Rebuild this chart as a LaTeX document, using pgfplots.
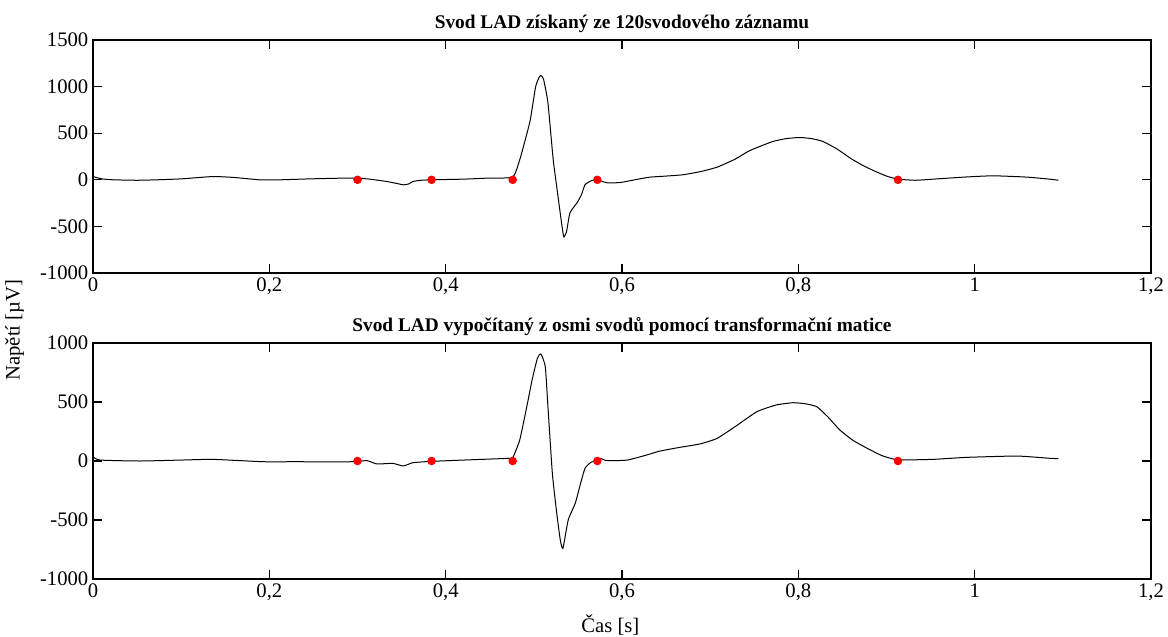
\documentclass[border=0pt]{standalone}
\usepackage{pgfplots}
\pgfplotsset{compat=1.18}
\usepackage{fontspec}
\setmainfont{Liberation Serif}
\begin{document}
\begin{tikzpicture}
\pgfplotsset{
  ecg/.style={
    scale only axis, width=793.5pt, xmin=0, xmax=1.2,
    xtick={0,0.2,0.4,0.6,0.8,1,1.2},
    tick align=inside, major tick length=7pt,
    xtick pos=both, ytick pos=both,
    axis line style={line width=0.8pt, black},
    every tick/.style={line width=0.8pt, black},
    /pgf/number format/use comma,
    /pgf/number format/1000 sep={},
    /pgf/number format/assume math mode=true,
    ticklabel style={font=\fontsize{15.5}{17}\selectfont},
    title style={font=\fontsize{14.5}{16}\selectfont\bfseries, yshift=-4pt},
    scaled ticks=false,
    every axis plot/.append style={line width=0.75pt},
  }
}
\path[use as bounding box] (-69.75pt,30pt) rectangle (806.25pt,-447pt);
\begin{axis}[ecg, at={(0pt,0pt)}, anchor=north west, height=174.75pt,
  ymin=-1000, ymax=1500, ytick={-1000,-500,0,500,1000,1500},
  title={Svod LAD získaný ze 120svodového záznamu},
  ylabel={Napětí [µV]},
  ylabel style={at={(axis description cs:-0.074,-0.245)}, anchor=center, font=\fontsize{15.5}{17}\selectfont},
]
\addplot[black, smooth, tension=0.3] coordinates {
(0,35) (0.01,10) (0.023,0) (0.05,-5) (0.073,0) (0.1,10) (0.136,35) (0.16,25) (0.189,0)
(0.212,0) (0.246,10) (0.284,18) (0.300,18) (0.314,7) (0.333,-18) (0.345,-40) (0.352,-54)
(0.358,-45) (0.363,-18) (0.372,-5) (0.384,0) (0.420,7) (0.447,18) (0.476,30)
(0.484,215) (0.490,420) (0.496,644) (0.502,998) (0.506,1100) (0.508,1120) (0.511,1080)
(0.516,826) (0.522,215) (0.529,-290) (0.532,-500) (0.534,-612) (0.537,-560) (0.541,-354)
(0.549,-247) (0.554,-160) (0.558,-54) (0.565,-10) (0.572,0) (0.583,-32) (0.598,-29)
(0.620,10) (0.632,29) (0.650,40) (0.669,54) (0.690,90) (0.708,136) (0.728,220) (0.745,314)
(0.771,411) (0.787,443) (0.802,454) (0.815,442) (0.828,411) (0.844,330) (0.859,232)
(0.872,160) (0.885,100) (0.900,40) (0.913,7) (0.933,-5) (0.953,7) (0.990,30) (1.021,43)
(1.059,29) (1.085,7) (1.095,-5)
};
\addplot[only marks, mark=*, mark size=2.8pt, red, mark options={draw=red, fill=red}] coordinates {
(0.300,0) (0.384,0) (0.476,0) (0.572,0) (0.913,0)
};
\end{axis}
\begin{axis}[ecg, at={(0pt,-227.25pt)}, anchor=north west, height=177pt,
  ymin=-1000, ymax=1000, ytick={-1000,-500,0,500,1000},
  title={Svod LAD vypočítaný z osmi svodů pomocí transformační matice},
  xlabel={Čas [s]},
  xlabel style={at={(axis description cs:0.489,-0.195)}, anchor=center, font=\fontsize{15.5}{17}\selectfont},
]
\addplot[black, smooth, tension=0.3] coordinates {
(0,36) (0.008,8) (0.053,0) (0.1,8) (0.136,14) (0.193,-6) (0.231,-6) (0.284,-8) (0.300,-3)
(0.311,3) (0.322,-25) (0.340,-20) (0.352,-42) (0.363,-14) (0.384,-3) (0.420,8) (0.473,23)
(0.476,25) (0.484,178) (0.492,460) (0.498,686) (0.504,870) (0.508,907) (0.513,799)
(0.516,460) (0.521,-104) (0.526,-443) (0.530,-669) (0.533,-740) (0.539,-500) (0.547,-358)
(0.552,-218) (0.558,-62) (0.565,-10) (0.572,0) (0.575,23) (0.583,3) (0.606,8) (0.628,51)
(0.643,84) (0.665,115) (0.688,144) (0.708,192) (0.730,300) (0.753,418) (0.775,475)
(0.794,494) (0.808,485) (0.821,460) (0.834,370) (0.847,263) (0.862,175) (0.878,108)
(0.895,45) (0.913,10) (0.953,14) (0.991,31) (1.048,42) (1.085,23) (1.095,20)
};
\addplot[only marks, mark=*, mark size=2.8pt, red, mark options={draw=red, fill=red}] coordinates {
(0.300,0) (0.384,0) (0.476,0) (0.572,0) (0.913,0)
};
\end{axis}
\end{tikzpicture}
\end{document}
